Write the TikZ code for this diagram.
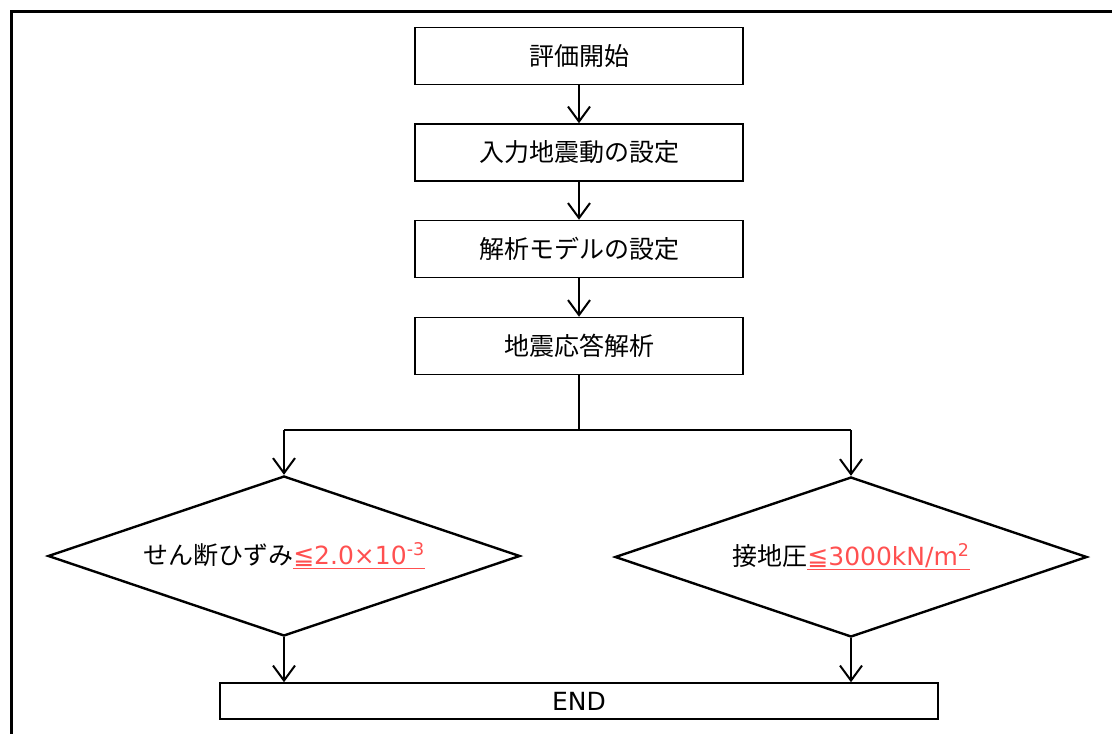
\documentclass[tikz,border=0pt]{standalone}
\usepackage{fontspec}
\setmainfont{Noto Sans CJK JP}
\newfontfamily\lat{DejaVu Sans}
\usetikzlibrary{shapes.geometric,arrows.meta}
\definecolor{redtxt}{HTML}{FF5050}
\begin{document}
\begin{tikzpicture}[x=1pt,y=-1pt,
  font=\fontsize{25}{30}\selectfont,
  procbox/.style={draw, line width=1.5pt, minimum width=328pt, minimum height=57pt, inner sep=0pt},
  decision/.style={draw, diamond, aspect=2.95, line width=2.4pt, minimum width=472pt, minimum height=160pt, inner sep=0pt},
  endbox/.style={draw, line width=1.5pt, minimum width=718pt, minimum height=36pt, inner sep=0pt},
  conn/.style={line width=2pt},
  arr/.style={line width=2pt, -{Straight Barb[length=15pt,width=22pt]}}]
\useasboundingbox (0,0) rectangle (1112,734);
\begin{scope}
\clip (0,0) rectangle (1112,734);
\draw[line width=3pt] (11,11) rectangle (1140,760);
\end{scope}
\node[procbox] (b1) at (579,56) {評価開始};
\node[procbox] (b2) at (579,152.5) {入力地震動の設定};
\node[procbox] (b3) at (579,249) {解析モデルの設定};
\node[procbox] (b4) at (579,346) {地震応答解析};
\node[decision] (d1) at (284,556) {せん断ひずみ{\color{redtxt}\lat\underline{≦2.0×10\textsuperscript{-3}}}};
\node[decision] (d2) at (851,557) {接地圧{\color{redtxt}\lat\underline{≦3000kN/m\textsuperscript{2}}}};
\node[endbox] (e) at (579,701) {\lat END};
\coordinate (j) at (579,430);
\coordinate (jl) at (284,430);
\coordinate (jr) at (851,430);
\draw[arr] (b1) -- (b2);
\draw[arr] (b2) -- (b3);
\draw[arr] (b3) -- (b4);
\draw[conn] (b4.south) -- (j);
\draw[conn] (jl) -- (jr);
\draw[arr] (jl) -- (d1.north);
\draw[arr] (jr) -- (d2.north);
\draw[arr] (d1.south) -- (d1.south |- e.north);
\draw[arr] (d2.south) -- (d2.south |- e.north);
\end{tikzpicture}
\end{document}
